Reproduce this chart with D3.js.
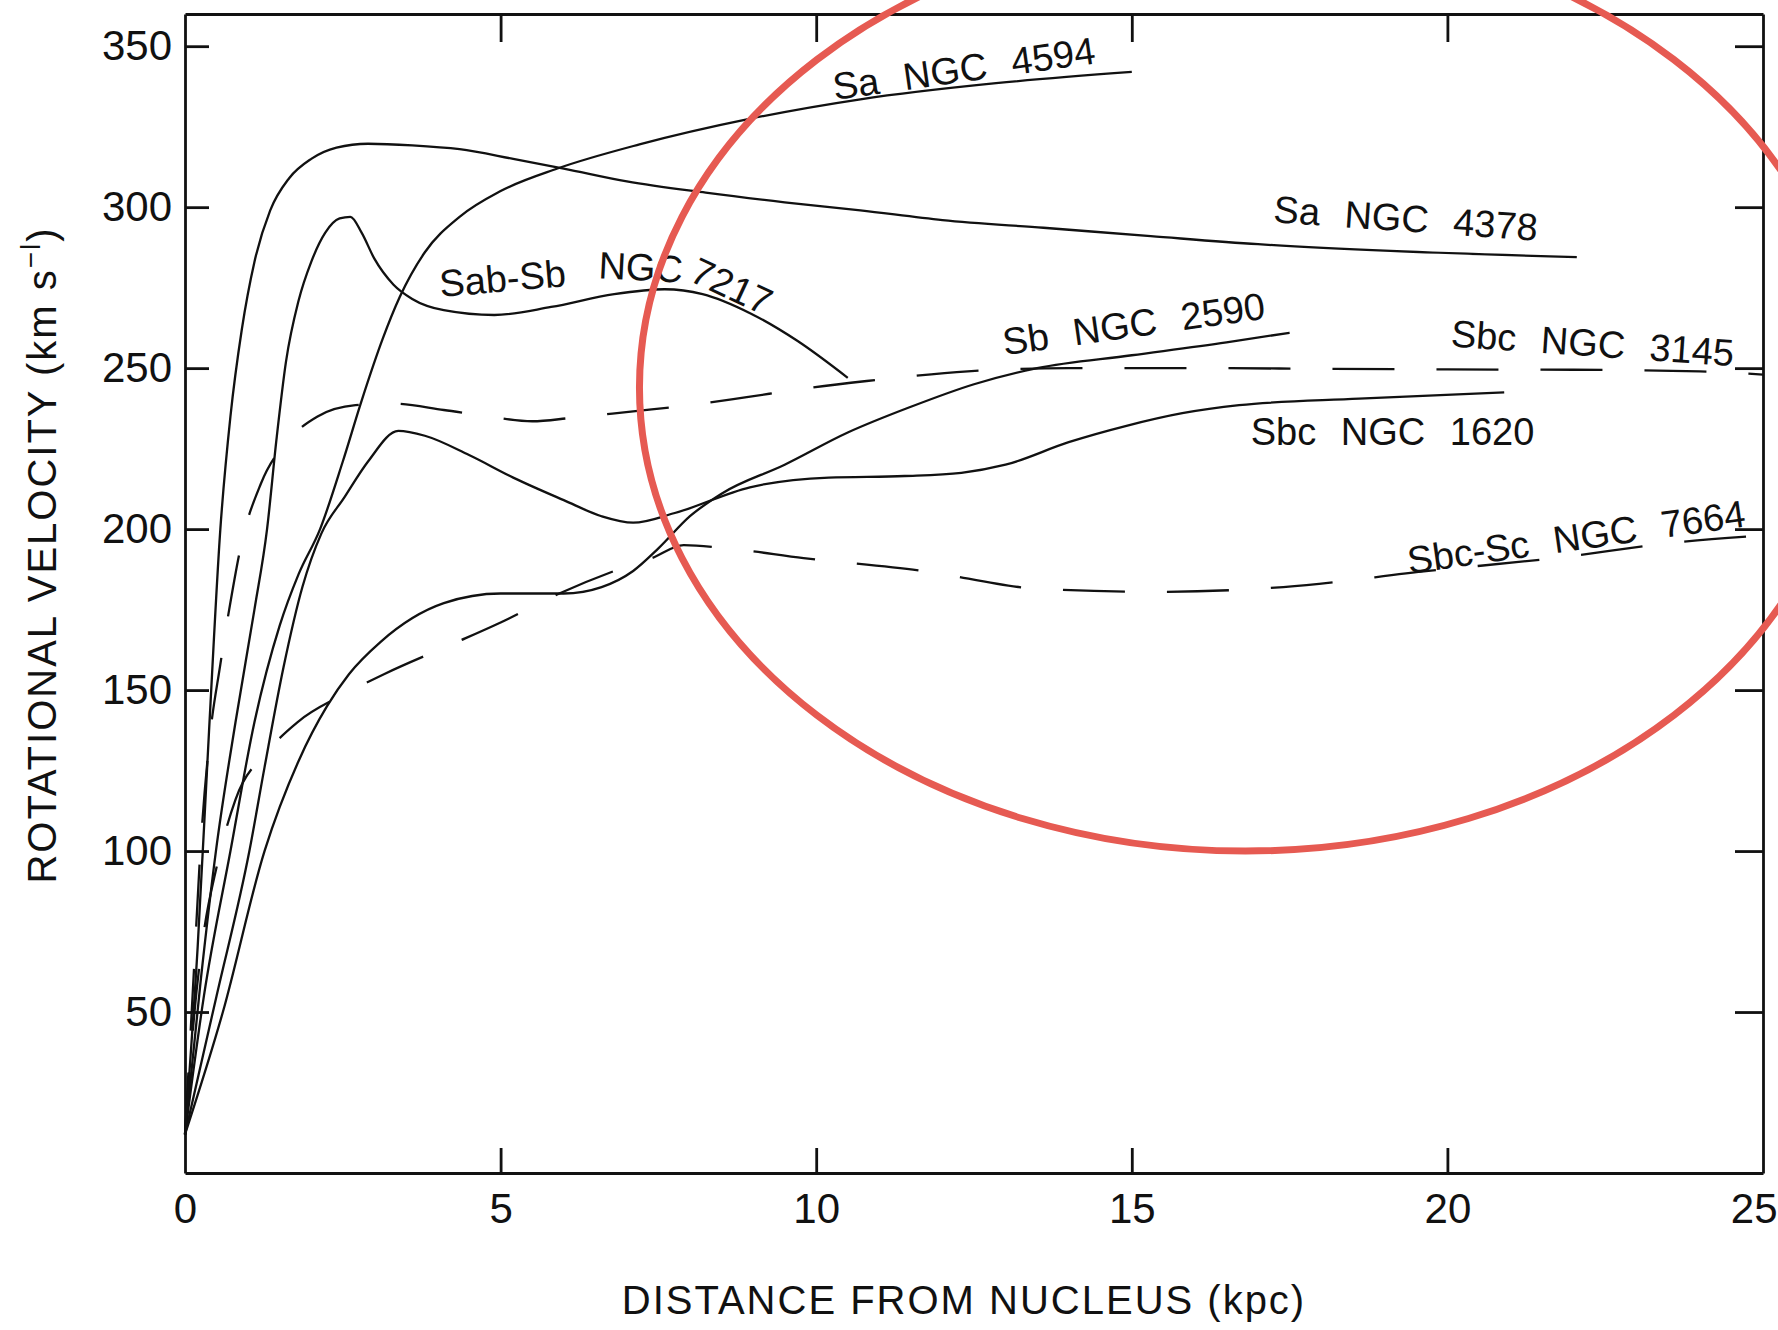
<!DOCTYPE html>
<html lang="en">
<head>
  <meta charset="UTF-8">
  <title>Rotation curves of spiral galaxies</title>
  <script src="https://d3js.org/d3.v7.min.js"></script>
  <style>
    body { margin: 0; background: #fff; }
    svg { display: block; font-family: "Liberation Sans", Arial, sans-serif; }
    .axis path, .axis line { stroke: #111; stroke-width: 2.8; }
    .axis text { font-size: 42px; fill: #111; font-family: "Liberation Sans", Arial, sans-serif; }
    .curve { fill: none; stroke: #111; stroke-width: 2.3; }
    .curve.dashed { stroke-dasharray: 62 42; }
    .label { font-size: 38px; fill: #111; word-spacing: 14px; }
    .title { font-size: 40px; letter-spacing: 2px; fill: #111; }
  </style>
</head>
<body>
  <div id="chart"></div>

  <script>
    // rotation curves: [distance (kpc), velocity (km/s)]
    const ngc4594 = [[0,12],[0.3,55],[0.72,100],[1.1,140],[1.5,170],[1.8,186],[2.14,200],[2.5,221],[2.8,240],[3.13,259],[3.4,272],[3.8,286],[4.35,297],[5,305],[5.9,312],[7.2,319.5],[8.96,327.5],[10.7,333.5],[12.85,338.5],[15,342]];
    const ngc4378 = [[0,12],[0.2,70],[0.38,137],[0.56,200],[0.72,235],[0.9,262],[1.1,283],[1.35,299],[1.65,309],[2.0,315],[2.4,318.5],[2.9,319.7],[3.6,319.2],[4.35,318],[5.2,315],[6,312],[7,308],[8.25,304.5],[9.5,301.5],[10.7,299],[12,296],[13.6,293.6],[15.3,291],[17,288.5],[19.1,286.4],[22.05,284.5]];
    const ngc7217 = [[0,12],[0.25,60],[0.49,100],[0.8,140],[1.1,175],[1.3,200],[1.45,228],[1.6,252],[1.8,271],[2.0,283],[2.22,292],[2.45,296.5],[2.62,297],[2.8,292],[3.0,284],[3.3,276],[3.6,271.5],[4.1,268],[4.9,266.5],[5.8,269],[6.8,273],[7.6,274.5],[8.2,273],[8.96,267],[9.7,258.5],[10.5,247]];
    const ngc2590 = [[0,12],[0.6,50],[1.26,100],[1.8,128],[2.25,145],[2.6,155],[3.1,165],[4.1,177],[5,180],[6,180],[6.6,182],[7.1,187],[7.5,194],[8,204],[8.5,211],[9.5,220],[10.5,230],[11.5,238],[12.5,245],[13.5,250],[15,254],[16.5,258],[17.5,261]];
    const ngc1620 = [[0,12],[0.5,55],[1.02,100],[1.26,126],[1.56,157],[1.86,182],[2.16,198.6],[2.53,210],[2.9,221],[3.38,230.5],[3.8,229],[4.5,223],[5.2,216],[6,209],[6.6,204],[7.1,202],[7.76,205],[8.95,213],[10.2,216],[11.4,216.5],[12.3,217.5],[13,220],[14,227],[14.9,232],[15.8,236],[16.7,238.5],[18.6,240.5],[20.9,242.5]];
    const ngc3145 = [[0,12],[0.12,55],[0.25,102],[0.38,133],[0.56,158],[0.7,175],[0.9,196],[1.2,214],[1.68,228.5],[2.1,235],[2.7,238.5],[3.3,239],[4.1,237],[4.8,235],[5.5,233.5],[6.1,234.5],[7.1,236.6],[8,238.5],[8.9,241],[9.8,243.6],[10.8,246],[11.5,247.5],[12.4,249],[14,250],[16,250],[18,249.8],[20,249.6],[22,249.5],[24,249],[25,248]];
    const ngc7664 = [[0,12],[0.15,50],[0.3,75],[0.5,95],[0.8,116],[1.31,131],[1.78,140],[2.55,149],[3.16,155],[4.2,164],[5,171],[5.93,180],[6.8,187],[7.4,191],[7.9,195],[8.6,194],[9.8,191],[11.7,187],[13.5,181.5],[15.4,180.5],[17.4,182],[19.7,187],[21.7,191],[23.7,196],[25,198]];

    const galaxies = [
      { name: "NGC 4594", points: ngc4594, dashed: false },
      { name: "NGC 4378", points: ngc4378, dashed: false },
      { name: "NGC 7217", points: ngc7217, dashed: false },
      { name: "NGC 2590", points: ngc2590, dashed: false },
      { name: "NGC 1620", points: ngc1620, dashed: false },
      { name: "NGC 3145", points: ngc3145, dashed: true },
      { name: "NGC 7664", points: ngc7664, dashed: true }
    ];

    // curve labels: text, anchor (kpc, km/s), rotation in degrees
    const curveLabels = [
      { text: "Sa NGC 4594", x: 12.34, y: 343, angle: -8 },
      { text: "Sa NGC 4378", x: 19.34, y: 296.5, angle: 4 },
      { text: "Sab-Sb", x: 5.03, y: 277.8, angle: -5 },
      { text: "NGC", x: 7.22, y: 281.3, angle: 3 },
      { text: "7217", x: 8.66, y: 275.4, angle: 25 },
      { text: "Sb NGC 2590", x: 15.03, y: 263.7, angle: -8 },
      { text: "Sbc NGC 3145", x: 22.3, y: 257.7, angle: 4 },
      { text: "Sbc NGC 1620", x: 19.13, y: 230.3, angle: 0 },
      { text: "Sbc-Sc NGC 7664", x: 22.04, y: 197.5, angle: -8 }
    ];

    const xTicks = [0, 5, 10, 15, 20, 25];
    const yTicks = [50, 100, 150, 200, 250, 300, 350];

    // red hand-drawn ring over the outer parts (kpc, km/s)
    const highlight = { cx: 16.8, cy: 244, rx: 9.6, ry: 144 };

    const W = 1778, H = 1330;

    const svg = d3.select("#chart").append("svg")
      .attr("width", W)
      .attr("height", H);

    const x = d3.scaleLinear().domain([0, 25]).range([185, 1763]);
    const y = d3.scaleLinear().domain([0, 360]).range([1173, 14]);

    // axes, ticks pointing into the frame
    svg.append("g").attr("class", "axis")
      .attr("transform", "translate(0," + y(0) + ")")
      .call(d3.axisBottom(x).tickValues(xTicks).tickSizeInner(-25).tickSizeOuter(0).tickPadding(20))
      .call(g => g.selectAll(".tick").filter(d => d === 0 || d === 25).select("line").remove())
      // last label sits against the page edge
      .call(g => g.selectAll(".tick").filter(d => d === 25).select("text")
        .attr("text-anchor", "end").attr("x", W - x(25) - 1));

    svg.append("g").attr("class", "axis")
      .attr("transform", "translate(0," + y(360) + ")")
      .call(d3.axisTop(x).tickValues([5, 10, 15, 20]).tickSizeInner(-28).tickSizeOuter(0).tickFormat(""));

    svg.append("g").attr("class", "axis")
      .attr("transform", "translate(" + x(0) + ",0)")
      .call(d3.axisLeft(y).tickValues(yTicks).tickSizeInner(-24).tickSizeOuter(0).tickPadding(13));

    svg.append("g").attr("class", "axis")
      .attr("transform", "translate(" + x(25) + ",0)")
      .call(d3.axisRight(y).tickValues(yTicks).tickSizeInner(-28).tickSizeOuter(0).tickFormat(""));

    svg.selectAll(".axis .domain").attr("stroke-width", 3);

    // curves
    const line = d3.line()
      .x(d => x(d[0]))
      .y(d => y(d[1]))
      .curve(d3.curveMonotoneX);

    svg.selectAll(".curve")
      .data(galaxies)
      .enter().append("path")
        .attr("class", d => d.dashed ? "curve dashed" : "curve")
        .attr("d", d => line(d.points));

    // labels along the curves
    svg.selectAll(".label")
      .data(curveLabels)
      .enter().append("text")
        .attr("class", "label")
        .attr("text-anchor", "middle")
        .attr("dominant-baseline", "central")
        .attr("transform", d => "translate(" + x(d.x) + "," + y(d.y) + ") rotate(" + d.angle + ")")
        .text(d => d.text);

    // axis titles
    svg.append("text")
      .attr("class", "title")
      .attr("text-anchor", "middle")
      .attr("x", 964)
      .attr("y", 1314)
      .text("DISTANCE  FROM NUCLEUS (kpc)");

    const yTitle = svg.append("text")
      .attr("class", "title")
      .attr("text-anchor", "middle")
      .attr("transform", "translate(56,555) rotate(-90)");
    yTitle.append("tspan").text("ROTATIONAL  VELOCITY (km s");
    yTitle.append("tspan").attr("dy", -16).attr("font-size", 28).text("\u2212l");
    yTitle.append("tspan").attr("dy", 16).text(")");

    // red ring
    svg.append("ellipse")
      .attr("cx", x(highlight.cx))
      .attr("cy", y(highlight.cy))
      .attr("rx", x(highlight.cx + highlight.rx) - x(highlight.cx))
      .attr("ry", y(highlight.cy) - y(highlight.cy + highlight.ry))
      .attr("fill", "none")
      .attr("stroke", "#e65a52")
      .attr("stroke-width", 7);
  </script>
</body>
</html>
